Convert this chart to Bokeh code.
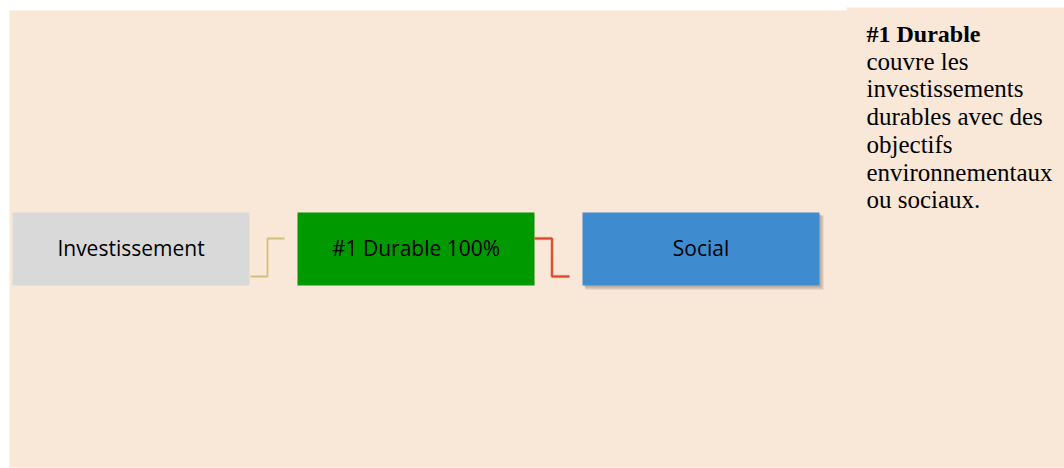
from bokeh.plotting import figure
from bokeh.models import Range1d
from bokeh.core.properties import value
from bokeh.embed import file_html
from bokeh.resources import INLINE

# ---- content ----
box_labels = ["Investissement", "#1 Durable 100%", "Social"]
box_colors = ["#D9D9D9", "#009900", "#3E8BD0"]
connector_colors = ["#D2C27C", "#D5472B"]
note_title = "#1 Durable"
note_lines = ["couvre les", "investissements", "durables avec des",
              "objectifs", "environnementaux", "ou sociaux."]

# ---- layout (page pixel coordinates) ----
W, H = 1064, 468
p = figure(width=W, height=H, output_backend="svg", toolbar_location=None,
           x_range=Range1d(0, W), y_range=Range1d(H, 0),
           min_border=0, background_fill_color="white", border_fill_color="white")
p.axis.visible = False
p.grid.visible = False
p.outline_line_color = None

peach = "#F9E7D7"
p.quad(left=[9], right=[1070], top=[10], bottom=[467], fill_color=peach, line_color=None)
p.quad(left=[846], right=[1070], top=[7], bottom=[12], fill_color=peach, line_color=None)

box_left0, box_step, box_w = 12, 285, 237
box_top, box_bot = 212, 285
lefts = [box_left0 + i * box_step for i in range(len(box_labels))]
rights = [l + box_w for l in lefts]
ymid = (box_top + box_bot) / 2

# shadow for last box
p.quad(left=[lefts[-1] + 3], right=[rights[-1] + 4], top=[box_top + 3], bottom=[box_bot + 4],
       fill_color="#9a8f86", fill_alpha=0.35, line_color=None)
p.quad(left=[lefts[-1] + 2], right=[rights[-1] + 2], top=[box_top + 2], bottom=[box_bot + 2],
       fill_color="#8a8078", fill_alpha=0.35, line_color=None)

p.quad(left=lefts, right=rights, top=[box_top] * 3, bottom=[box_bot] * 3,
       fill_color=box_colors, line_color=None)

p.text(x=[(l + r) / 2 for l, r in zip(lefts, rights)], y=[ymid - 1] * 3, text=box_labels,
       text_font=value("Open Sans"), text_font_size="21px", text_color="black",
       text_align="center", text_baseline="middle")

# connectors
y_hi, y_lo = 238, 276
for i, c in enumerate(connector_colors):
    x0 = rights[i] + (1 if i == 0 else 0)
    x2 = lefts[i + 1] - 13
    xm = (x0 + x2) / 2
    if i == 0:
        ys = [y_lo, y_lo, y_hi, y_hi]
    else:
        ys = [y_hi, y_hi, y_lo, y_lo]
    xs = [x0, xm, xm, x2]
    if i == 1:
        p.line(xs, ys, line_color=c, line_width=3.5, line_alpha=0.3)
    p.line(xs, ys, line_color=c, line_width=1.8)

# note text
nx = 866
y0 = 33
p.text(x=[nx], y=[y0], text=[note_title], text_font=value("Liberation Serif"),
       text_font_style="bold", text_font_size="24px", text_color="black",
       text_baseline="alphabetic")
lh = 27.7
p.text(x=[nx] * len(note_lines), y=[y0 + lh * (i + 1) for i in range(len(note_lines))],
       text=note_lines, text_font=value("Liberation Serif"), text_font_size="25px",
       text_color="black", text_baseline="alphabetic")

open("out.html", "w").write(file_html(p, INLINE))
